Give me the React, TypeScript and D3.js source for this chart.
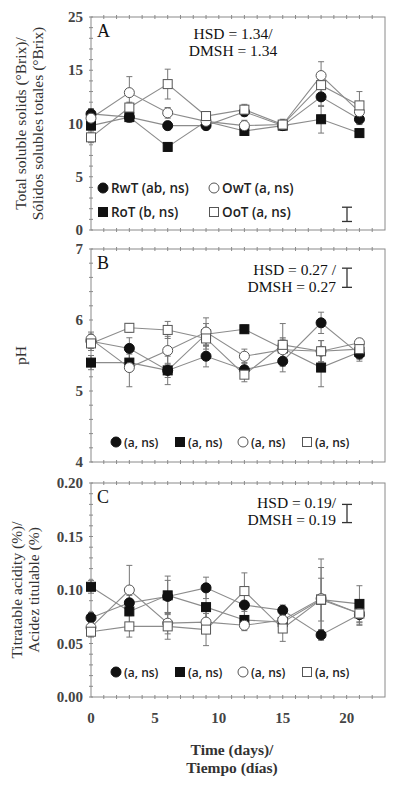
import * as d3 from "d3";
import { useEffect, useRef } from "react";

// sampling days
const days = [0, 3, 6, 9, 12, 15, 18, 21];
const dayTicks = [0, 5, 10, 15, 20];

// Panel A: total soluble solids (°Brix)
const solidsRwT = [10.9, 10.6, 9.8, 9.8, 11.1, 9.8, 12.5, 10.4];
const solidsRoT = [9.8, 10.6, 7.8, 10.2, 9.3, 9.8, 10.4, 9.1];
const solidsOwT = [10.5, 12.9, 11.0, 10.2, 9.8, 9.9, 14.5, 11.1];
const solidsOoT = [8.7, 11.5, 13.7, 10.7, 11.3, 9.9, 13.6, 11.7];
const solidsErrRwT = [0.5, 0.5, 0.4, 0.4, 0.4, 0.4, 0.9, 0.5];
const solidsErrRoT = [0.4, 0.4, 0.4, 0.4, 0.4, 0.3, 1.3, 0.3];
const solidsErrOwT = [0.5, 1.5, 0.5, 0.4, 0.5, 0.4, 1.3, 0.6];
const solidsErrOoT = [0.5, 0.5, 1.4, 0.4, 0.5, 0.5, 0.8, 1.3];
const solidsTicks = [0, 5, 10, 15, 20];
const solidsTickLabels = ["0", "5", "10", "15", "25"];

// Panel B: pH
const phRwT = [5.7, 5.6, 5.29, 5.49, 5.3, 5.42, 5.96, 5.52];
const phRoT = [5.4, 5.4, 5.29, 5.8, 5.87, 5.6, 5.33, 5.55];
const phOwT = [5.73, 5.33, 5.57, 5.83, 5.49, 5.58, 5.56, 5.68];
const phOoT = [5.67, 5.89, 5.86, 5.74, 5.23, 5.65, 5.56, 5.59];
const phErrRwT = [0.1, 0.15, 0.2, 0.15, 0.1, 0.15, 0.15, 0.1];
const phErrRoT = [0.1, 0.12, 0.1, 0.15, 0.06, 0.15, 0.27, 0.1];
const phErrOwT = [0.1, 0.27, 0.2, 0.2, 0.1, 0.15, 0.15, 0.05];
const phErrOoT = [0.1, 0.06, 0.12, 0.15, 0.1, 0.3, 0.15, 0.08];
const phTicks = [4, 5, 6, 7];

// Panel C: titratable acidity (%)
const acidRwT = [0.074, 0.088, 0.094, 0.102, 0.086, 0.081, 0.058, 0.077];
const acidRoT = [0.103, 0.08, 0.095, 0.084, 0.072, 0.07, 0.091, 0.087];
const acidOwT = [0.065, 0.1, 0.069, 0.07, 0.067, 0.072, 0.092, 0.078];
const acidOoT = [0.061, 0.066, 0.066, 0.063, 0.099, 0.064, 0.091, 0.078];
const acidErrRwT = [0.005, 0.01, 0.015, 0.01, 0.01, 0.005, 0.005, 0.01];
const acidErrRoT = [0.006, 0.015, 0.018, 0.02, 0.008, 0.008, 0.02, 0.017];
const acidErrOwT = [0.005, 0.023, 0.01, 0.01, 0.005, 0.005, 0.037, 0.008];
const acidErrOoT = [0.005, 0.01, 0.012, 0.015, 0.017, 0.012, 0.03, 0.01];
const acidTicks = [0, 0.05, 0.1, 0.15, 0.2];

const seriesNames = ["RwT", "RoT", "OwT", "OoT"];
const legendA = ["RwT (ab, ns)", "RoT (b, ns)", "OwT (a, ns)", "OoT (a, ns)"];
const legendBC = ["(a, ns)", "(a, ns)", "(a, ns)", "(a, ns)"];

const SERIF = "'Liberation Serif', 'DejaVu Serif', serif";
const SANS = "'Open Sans', 'Noto Sans', sans-serif";

const App = () => {
  const ref: any = useRef();

  useEffect(() => {
    const svg = d3.select(ref.current);
    svg.selectAll("*").remove();

    const x = d3.scaleLinear().domain([0, 23]).range([91, 385]);

    const drawMarker = (g: any, kind: string, cx: number, cy: number) => {
      const filled = kind[0] === "R";
      const square = kind.endsWith("oT");
      if (square) {
        g.append("rect")
          .attr("x", cx - 4.5).attr("y", cy - 4.5)
          .attr("width", 9).attr("height", 9)
          .attr("fill", filled ? "#111" : "#fff")
          .attr("stroke", filled ? "#111" : "#555").attr("stroke-width", 1);
      } else {
        g.append("circle")
          .attr("cx", cx).attr("cy", cy).attr("r", 5)
          .attr("fill", filled ? "#111" : "#fff")
          .attr("stroke", filled ? "#111" : "#555").attr("stroke-width", 1);
      }
    };

    const panel = (opt: any) => {
      const y = d3.scaleLinear().domain(opt.domain).range(opt.range);
      const g = svg.append("g");
      const [x0, x1] = x.range();
      const [yb, yt] = opt.range;

      // frame
      g.append("rect").attr("x", x0).attr("y", yt)
        .attr("width", x1 - x0).attr("height", yb - yt)
        .attr("fill", "none").attr("stroke", "#8a8a8a").attr("stroke-width", 1);

      // minor ticks crossing bottom / top
      d3.range(1, 23).forEach((d) => {
        [yb, yt].forEach((yy) => {
          g.append("line").attr("x1", x(d)).attr("x2", x(d))
            .attr("y1", yy - 2).attr("y2", yy + 2)
            .attr("stroke", "#8a8a8a");
        });
      });
      // minor ticks on left axis
      const [d0, d1] = opt.domain;
      const step = (d1 - d0) / opt.minorCount;
      d3.range(0, opt.minorCount + 1).forEach((i) => {
        g.append("line").attr("x1", x0 - 2).attr("x2", x0 + 2)
          .attr("y1", y(d0 + i * step)).attr("y2", y(d0 + i * step))
          .attr("stroke", "#8a8a8a");
      });

      // tick labels
      opt.ticks.forEach((t: number, i: number) => {
        g.append("text").attr("x", 83).attr("y", y(t) + 5)
          .attr("text-anchor", "end")
          .attr("font-family", SERIF).attr("font-size", 15)
          .attr("font-weight", "bold").attr("fill", "#444")
          .text(opt.tickLabels ? opt.tickLabels[i] : opt.fmt(t));
      });

      // axis title
      opt.title.forEach((line: string, i: number) => {
        g.append("text")
          .attr("transform", `translate(${opt.titleX[i]},${(yb + yt) / 2}) rotate(-90)`)
          .attr("text-anchor", "middle")
          .attr("font-family", SERIF).attr("font-size", 15.5).attr("fill", "#333")
          .text(line);
      });

      // panel letter
      g.append("text").attr("x", 97).attr("y", yt + 20)
        .attr("font-family", SERIF).attr("font-size", 18).attr("fill", "#111")
        .text(opt.letter);

      // HSD text
      opt.hsdText.forEach((line: string, i: number) => {
        g.append("text").attr("x", opt.hsdX).attr("y", yt + opt.hsdY + i * 17)
          .attr("text-anchor", opt.hsdAnchor)
          .attr("font-family", SERIF).attr("font-size", 15.5).attr("fill", "#111")
          .text(line);
      });
      // HSD bar
      const [h0, h1] = opt.hsdBar;
      const hb = g.append("g").attr("stroke", "#333").attr("stroke-width", 1.3);
      hb.append("line").attr("x1", 347).attr("x2", 347).attr("y1", y(h0)).attr("y2", y(h1));
      hb.append("line").attr("x1", 342).attr("x2", 352).attr("y1", y(h0)).attr("y2", y(h0));
      hb.append("line").attr("x1", 342).attr("x2", 352).attr("y1", y(h1)).attr("y2", y(h1));

      // lines
      const line = d3.line<any>().x((d) => x(d[0])).y((d) => y(d[1]));
      opt.values.forEach((vals: number[]) => {
        g.append("path").datum(days.map((d, i) => [d, vals[i]]))
          .attr("d", line).attr("fill", "none")
          .attr("stroke", "#8c8c8c").attr("stroke-width", 1.1);
      });

      // error bars
      opt.values.forEach((vals: number[], s: number) => {
        const errs = opt.errors[s];
        days.forEach((d, i) => {
          const lo = y(vals[i] - errs[i]), hi = y(vals[i] + errs[i]);
          g.append("line").attr("x1", x(d)).attr("x2", x(d)).attr("y1", lo).attr("y2", hi)
            .attr("stroke", "#777").attr("stroke-width", 1);
          [lo, hi].forEach((yy) => {
            g.append("line").attr("x1", x(d) - 3).attr("x2", x(d) + 3)
              .attr("y1", yy).attr("y2", yy).attr("stroke", "#777").attr("stroke-width", 1);
          });
        });
      });

      // markers
      opt.values.forEach((vals: number[], s: number) => {
        days.forEach((d, i) => drawMarker(g, seriesNames[s], x(d), y(vals[i])));
      });

      // legend
      opt.legend.forEach((item: any) => {
        drawMarker(g, item.kind, item.x, item.y);
        g.append("text").attr("x", item.x + 8).attr("y", item.y + 5)
          .attr("font-family", SANS).attr("font-size", opt.legendSize).attr("font-weight", 600)
          .attr("fill", "#222").text(item.label);
      });
    };

    panel({
      letter: "A",
      domain: [0, 20], range: [230, 17],
      minorCount: 20,
      ticks: solidsTicks, tickLabels: solidsTickLabels,
      title: ["Total soluble solids (°Brix)/", "Sólidos solubles totales (°Brix)"],
      titleX: [26, 43],
      hsdText: ["HSD = 1.34/", "DMSH = 1.34"], hsdX: 233, hsdY: 22, hsdAnchor: "middle",
      hsdBar: [0.8, 2.14],
      legendSize: 13.5,
      values: [solidsRwT, solidsRoT, solidsOwT, solidsOoT],
      errors: [solidsErrRwT, solidsErrRoT, solidsErrOwT, solidsErrOoT],
      legend: [
        { kind: "RwT", label: legendA[0], x: 103, y: 188 },
        { kind: "RoT", label: legendA[1], x: 103, y: 212 },
        { kind: "OwT", label: legendA[2], x: 214, y: 188 },
        { kind: "OoT", label: legendA[3], x: 214, y: 212 },
      ],
    });

    const legendXs = [116, 180, 243, 307];
    panel({
      letter: "B",
      domain: [4, 7], range: [462, 249],
      minorCount: 15,
      ticks: phTicks, fmt: d3.format("d"),
      title: ["pH"], titleX: [26],
      hsdText: ["HSD = 0.27 /", "DMSH = 0.27"], hsdX: 336, hsdY: 26, hsdAnchor: "end",
      hsdBar: [6.46, 6.73],
      legendSize: 12,
      values: [phRwT, phRoT, phOwT, phOoT],
      errors: [phErrRwT, phErrRoT, phErrOwT, phErrOoT],
      legend: seriesNames.map((k, i) => ({ kind: k, label: legendBC[i], x: legendXs[i], y: 442 })),
    });

    panel({
      letter: "C",
      domain: [0, 0.2], range: [697, 483],
      minorCount: 20,
      ticks: acidTicks, fmt: d3.format(".2f"),
      title: ["Titratable acidity (%)/", "Acidez titulable (%)"], titleX: [22, 39],
      hsdText: ["HSD = 0.19/", "DMSH = 0.19"], hsdX: 336, hsdY: 25, hsdAnchor: "end",
      hsdBar: [0.163, 0.18],
      legendSize: 12,
      values: [acidRwT, acidRoT, acidOwT, acidOoT],
      errors: [acidErrRwT, acidErrRoT, acidErrOwT, acidErrOoT],
      legend: seriesNames.map((k, i) => ({ kind: k, label: legendBC[i], x: legendXs[i], y: 672 })),
    });

    // x axis labels
    dayTicks.forEach((d) => {
      svg.append("text").attr("x", x(d)).attr("y", 723)
        .attr("text-anchor", "middle")
        .attr("font-family", SERIF).attr("font-size", 15)
        .attr("font-weight", "bold").attr("fill", "#444")
        .text(d);
    });
    ["Time (days)/", "Tiempo (días)"].forEach((t, i) => {
      svg.append("text").attr("x", 232).attr("y", 755 + i * 18)
        .attr("text-anchor", "middle")
        .attr("font-family", SERIF).attr("font-size", 15.5)
        .attr("font-weight", "bold").attr("fill", "#333")
        .text(t);
    });
  }, []);

  return (
    <svg ref={ref} width={396} height={788}
      style={{ position: "absolute", left: 0, top: 0, background: "#fff" }} />
  );
};

export default App;
